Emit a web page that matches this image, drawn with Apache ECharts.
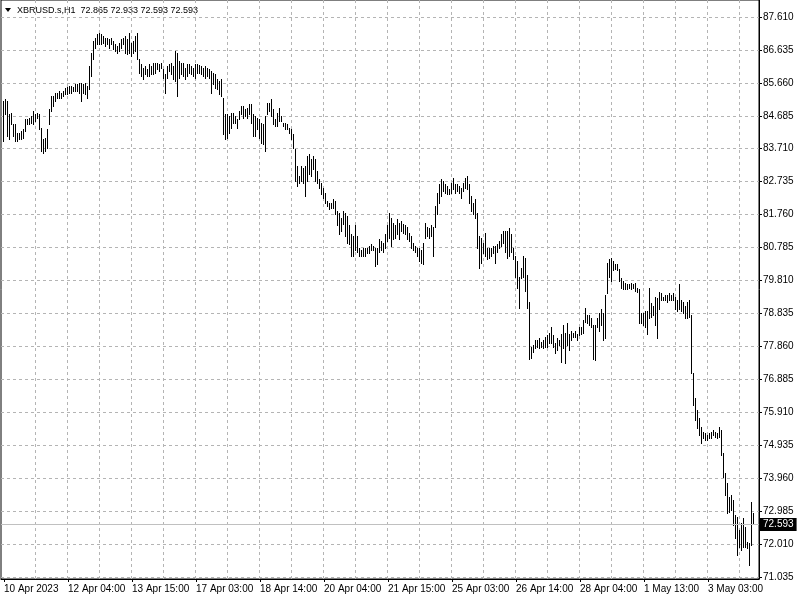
<!DOCTYPE html>
<html><head><meta charset="utf-8">
<script src="https://cdn.jsdelivr.net/npm/echarts@6/dist/echarts.min.js"></script>
<style>html,body{margin:0;padding:0;background:#fff}#c{width:800px;height:600px}</style>
</head><body><div id="c"></div>
<script>
const symbolName = 'XBRUSD.s,H1';
const lastOHLC = [72.865, 72.933, 72.593, 72.593];
const xLabels = ['10 Apr 2023','12 Apr 04:00','13 Apr 15:00','17 Apr 03:00','18 Apr 14:00','20 Apr 04:00','21 Apr 15:00','25 Apr 03:00','26 Apr 14:00','28 Apr 04:00','1 May 13:00','3 May 03:00'];
const yTicks = [87.610,86.635,85.660,84.685,83.710,82.735,81.760,80.785,79.810,78.835,77.860,76.885,75.910,74.935,73.960,72.985,72.010,71.035];
const highs = [
85.13,85.19,85.13,84.74,84.77,84.45,84.45,84.18,84.18,84.24,
84.30,84.60,84.60,84.63,84.69,84.83,84.74,84.77,84.74,84.33,
84.00,84.03,84.30,84.89,85.28,85.28,85.36,85.36,85.42,85.36,
85.42,85.51,85.54,85.57,85.57,85.54,85.63,85.63,85.66,85.66,
85.63,85.66,85.57,86.16,86.55,86.90,86.99,87.11,87.14,87.11,
87.05,86.99,86.99,86.96,86.99,86.90,86.81,86.75,86.84,86.96,
86.99,87.05,86.96,87.14,86.84,86.90,87.05,87.14,86.37,86.22,
86.10,86.16,86.07,86.22,86.16,86.25,86.25,86.25,86.22,86.25,
86.07,85.93,86.16,86.22,86.25,86.16,86.61,86.55,86.31,86.25,
86.25,86.10,86.22,86.22,86.16,86.10,86.22,86.22,86.19,86.16,
86.10,86.16,86.10,86.07,86.01,85.95,85.93,85.78,85.72,85.78,
85.22,84.74,84.74,84.69,84.77,84.77,84.69,84.60,84.83,84.98,
84.98,84.89,84.92,85.04,85.04,84.74,84.69,84.63,84.60,84.48,
84.45,84.69,85.07,85.07,85.19,84.89,84.60,84.77,84.92,84.69,
84.48,84.48,84.45,84.33,84.30,84.15,83.71,83.21,82.91,83.21,
83.15,83.21,83.50,83.56,83.41,83.50,83.41,83.06,82.82,82.71,
82.56,82.41,82.17,82.11,82.09,82.23,82.17,81.88,81.82,81.67,
81.88,81.82,81.73,81.44,81.20,81.14,81.44,81.14,80.78,80.70,
80.78,80.76,80.78,80.84,80.90,80.84,80.76,80.78,81.05,80.99,
80.93,81.20,81.44,81.82,81.67,81.52,81.44,81.64,81.52,81.58,
81.49,81.44,81.38,81.23,81.14,80.93,80.84,80.78,80.76,80.70,
80.93,81.52,81.38,81.35,81.44,81.38,82.03,82.41,82.68,82.82,
82.76,82.68,82.62,82.53,82.71,82.85,82.68,82.68,82.62,82.56,
82.71,82.85,82.91,82.68,82.32,82.11,82.23,81.82,81.14,81.08,
80.93,81.23,80.78,80.76,80.78,80.84,80.84,80.90,80.99,81.20,
81.29,81.29,81.29,81.35,81.20,80.78,80.55,80.40,79.90,80.19,
80.55,80.49,79.96,79.16,77.83,77.89,78.04,78.04,78.10,77.98,
78.04,78.13,78.19,78.27,78.42,78.19,77.95,78.10,78.04,78.24,
78.48,78.27,78.54,78.24,78.33,78.27,78.33,78.24,78.42,78.42,
78.63,79.01,78.78,78.78,78.69,78.48,78.48,78.69,78.86,78.98,
78.86,79.37,80.34,80.46,80.49,80.40,80.31,80.31,80.16,79.87,
79.81,79.75,79.72,79.72,79.75,79.72,79.75,79.60,79.57,78.84,
78.84,78.92,78.92,79.60,79.13,79.07,79.31,79.28,79.46,79.43,
79.31,79.37,79.37,79.43,79.37,79.43,79.31,79.22,79.72,79.22,
79.16,79.07,79.16,79.22,78.78,77.06,76.32,75.97,75.73,75.47,
75.32,75.29,75.23,75.29,75.32,75.38,75.32,75.29,75.47,75.38,
74.70,74.11,73.81,73.40,73.46,73.31,72.87,72.81,72.42,72.63,
72.78,72.51,72.07,72.04,73.25,72.933
];
const lows = [
83.95,84.74,84.09,84.00,84.45,84.09,83.95,83.95,84.00,84.00,
84.03,84.24,84.45,84.45,84.48,84.45,84.54,84.63,84.30,83.65,
83.59,83.65,83.74,84.45,84.83,84.98,85.13,85.22,85.22,85.22,
85.28,85.33,85.33,85.36,85.36,85.42,85.42,85.42,85.36,85.13,
85.36,85.33,85.22,85.48,85.87,86.37,86.69,86.81,86.81,86.81,
86.84,86.75,86.81,86.69,86.81,86.66,86.61,86.55,86.61,86.69,
86.81,86.55,86.52,86.55,86.46,86.55,86.61,86.37,85.95,85.87,
85.78,85.93,85.87,85.87,85.93,85.93,85.95,86.07,86.01,86.10,
85.81,85.36,85.81,86.01,85.93,85.78,85.72,85.28,85.81,85.93,
85.87,85.78,85.87,85.95,85.93,85.87,85.81,85.95,85.95,85.93,
85.87,85.81,85.87,85.81,85.36,85.63,85.51,85.48,85.33,85.28,
84.15,84.00,84.03,84.18,84.33,84.48,84.48,84.33,84.60,84.74,
84.63,84.69,84.63,84.74,84.48,84.09,84.09,84.30,84.03,83.89,
83.86,83.65,84.74,84.83,84.69,84.45,84.39,84.39,84.54,84.54,
84.39,84.30,84.30,84.18,84.00,83.74,82.76,82.62,82.71,82.76,
82.71,82.32,82.76,82.97,82.91,83.12,82.76,82.71,82.56,82.38,
82.26,82.11,82.03,81.94,81.97,81.97,81.79,81.44,81.20,81.29,
81.49,81.14,80.93,80.90,80.55,80.55,80.70,80.64,80.55,80.55,
80.55,80.55,80.61,80.61,80.70,80.70,80.25,80.31,80.64,80.70,
80.64,80.78,80.99,81.08,80.84,81.05,81.08,81.20,81.05,81.29,
81.23,81.20,81.05,80.99,80.78,80.70,80.64,80.55,80.40,80.34,
80.31,81.08,81.14,81.08,81.14,80.55,81.38,81.79,82.11,82.32,
82.47,82.41,82.38,82.38,82.41,82.53,82.41,82.47,82.41,82.26,
82.47,82.56,82.53,82.11,81.88,81.79,81.67,80.78,80.19,80.34,
80.61,80.55,80.46,80.49,80.55,80.61,80.34,80.64,80.76,80.84,
80.93,80.64,80.49,80.55,80.64,80.46,79.90,79.60,79.01,79.87,
79.90,79.51,79.01,77.50,77.53,77.68,77.80,77.83,77.80,77.83,
77.80,77.83,77.83,77.95,77.95,77.83,77.65,77.74,77.89,77.39,
77.80,77.36,77.89,77.74,78.04,78.13,78.13,78.04,78.19,78.24,
78.27,78.57,78.54,78.48,78.42,77.50,77.45,78.42,78.33,78.48,
78.04,78.10,79.43,79.90,79.81,80.11,80.16,80.11,79.81,79.60,
79.57,79.57,79.57,79.60,79.57,79.60,79.51,79.46,78.54,78.54,
78.48,78.42,78.24,78.69,78.72,78.78,78.48,78.10,78.98,79.22,
79.22,79.22,79.16,79.22,79.22,79.22,78.98,78.92,78.98,78.92,
78.84,78.69,78.69,78.72,77.06,76.12,75.67,75.44,75.23,74.99,
75.14,75.08,75.08,75.14,75.14,75.23,75.17,75.14,75.17,74.64,
73.99,73.46,72.93,72.95,73.01,72.57,72.19,71.68,71.92,71.83,
71.92,71.92,71.89,71.39,71.98,72.593
];

const yMin = 70.976, yMax = 88.112;
const padBefore = 1, padAfter = 2;
const labelEvery = 32, gridEvery = 16;
const nCat = highs.length + padBefore + padAfter;
const categories = Array.from({length: nCat}, (_, i) => 'c' + i);
const bars = highs.map((h, j) => [j + padBefore, h, lows[j]]);
const isLabelIdx = i => {
  const j = i - padBefore;
  return j >= 0 && j % labelEvery === 0 && j / labelEvery < xLabels.length;
};
const FONT = 'Liberation Sans';
const gridColor = '#b4b4b4';

const chart = echarts.init(document.getElementById('c'), null, {renderer: 'canvas'});
chart.setOption({
  animation: false,
  backgroundColor: '#fff',
  grid: {left: 1, right: 41, top: -1, bottom: 21, show: true, borderColor: '#000', borderWidth: 1, backgroundColor: '#fff'},
  xAxis: {
    type: 'category', data: categories, boundaryGap: true,
    axisLine: {show: true, lineStyle: {color: '#000', width: 1}},
    axisTick: {show: true, interval: i => isLabelIdx(i), alignWithLabel: true, length: 3, lineStyle: {color: '#000'}},
    axisLabel: {show: true, interval: i => isLabelIdx(i), formatter: (v, i) => isLabelIdx(i) ? xLabels[(i - padBefore) / labelEvery] : '',
      align: 'left', margin: 5, color: '#000', fontFamily: FONT, fontSize: 10},
    splitLine: {show: true, interval: i => i > padBefore && (i - padBefore) % gridEvery === 0, lineStyle: {color: gridColor, type: [3, 3], width: 1}}
  },
  yAxis: {
    type: 'value', position: 'right', min: yMin, max: yMax,
    axisLine: {show: true, lineStyle: {color: '#000', width: 1}},
    axisTick: {show: true, customValues: yTicks, length: 3, inside: false, lineStyle: {color: '#000'}},
    axisLabel: {show: true, customValues: yTicks, formatter: v => v.toFixed(3), margin: 4, color: '#000', fontFamily: FONT, fontSize: 10},
    splitLine: {show: true, lineStyle: {color: gridColor, type: [3, 3], width: 1}}
  },
  graphic: [
    {type: 'polygon', shape: {points: [[5, 8], [11, 8], [8, 12]]}, style: {fill: '#000'}},
    {type: 'text', left: 17, top: 6, style: {text: symbolName + '  ' + lastOHLC.map(v => v.toFixed(3)).join(' '), font: '9px "Liberation Sans"', fill: '#000'}}
  ],
  series: [{
    type: 'custom',
    data: bars,
    encode: {x: 0, y: [1, 2]},
    renderItem: (params, api) => {
      const hi = api.coord([api.value(0), api.value(1)]);
      const lo = api.coord([api.value(0), api.value(2)]);
      const px = Math.round(hi[0]) - 0.5;
      return {type: 'line', shape: {x1: px, y1: Math.round(hi[1]), x2: px, y2: Math.round(lo[1]) + 1}, style: {stroke: '#000', lineWidth: 1}};
    },
    markLine: {
      silent: true, symbol: 'none', animation: false,
      data: [{yAxis: lastOHLC[3]}],
      lineStyle: {color: '#c0c0c0', type: 'solid', width: 1},
      label: {show: true, position: 'end', formatter: lastOHLC[3].toFixed(3), color: '#fff', backgroundColor: '#000', padding: [2, 3, 1, 3], fontFamily: FONT, fontSize: 10, distance: 1}
    }
  }]
});
</script>
</body></html>
